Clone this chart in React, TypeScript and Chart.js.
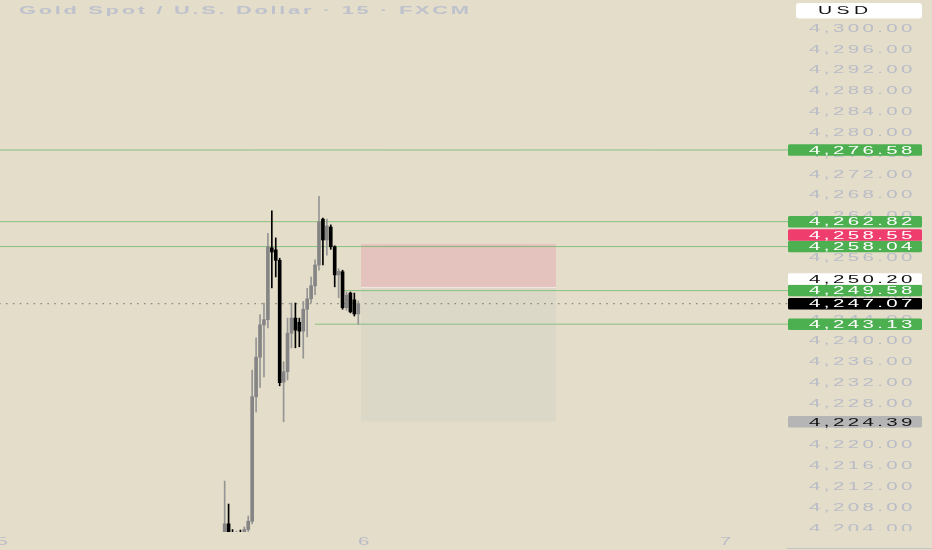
import React, { useEffect, useRef } from 'react';
import { Chart, registerables } from 'chart.js';

Chart.register(...registerables);

const W = 932;
const H = 550;

// ---- data (15-minute bar slots) ----
const candleSlots = [56, 57, 58, 59, 60, 61, 62, 63, 64, 65, 66, 67, 68, 69, 70, 71, 72, 73, 74, 75, 76, 77, 78, 79, 80, 81, 82, 83, 84, 85, 86, 87, 88, 89, 90];
const opens = [4202.6, 4204.8, 4203.1, 4200.6, 4202.8, 4202.2, 4203.7, 4205.3, 4229.2, 4236.8, 4243.0, 4244.0, 4257.8, 4257.4, 4255.4, 4232.0, 4234.0, 4241.4, 4244.3, 4243.5, 4241.8, 4246.0, 4248.0, 4250.5, 4254.5, 4263.3, 4259.3, 4261.8, 4258.0, 4252.6, 4253.2, 4246.3, 4249.1, 4247.8, 4245.1];
const highs = [4213.0, 4208.6, 4203.7, 4203.4, 4203.6, 4204.2, 4206.3, 4234.3, 4240.5, 4245.0, 4247.2, 4260.6, 4264.9, 4259.7, 4255.8, 4235.9, 4244.3, 4247.2, 4247.2, 4244.3, 4247.5, 4250.0, 4252.2, 4255.5, 4267.7, 4263.5, 4263.3, 4262.2, 4258.2, 4253.8, 4253.5, 4249.3, 4249.3, 4249.1, 4247.6];
const lows = [4201.9, 4202.2, 4199.8, 4199.9, 4201.4, 4201.8, 4203.0, 4204.8, 4226.3, 4231.0, 4233.0, 4242.4, 4250.1, 4252.2, 4231.3, 4224.4, 4232.4, 4238.6, 4238.6, 4238.8, 4236.6, 4240.7, 4247.2, 4248.8, 4253.5, 4254.5, 4256.4, 4257.5, 4250.3, 4248.2, 4246.0, 4245.8, 4245.3, 4244.7, 4243.1];
const closes = [4204.8, 4203.1, 4200.6, 4202.8, 4202.2, 4203.7, 4205.3, 4229.2, 4236.8, 4243.0, 4244.0, 4258.0, 4257.0, 4255.4, 4231.9, 4234.0, 4241.4, 4244.3, 4242.0, 4241.8, 4246.0, 4248.0, 4250.5, 4254.5, 4262.8, 4259.3, 4262.0, 4258.0, 4252.6, 4253.3, 4246.3, 4248.7, 4245.5, 4245.1, 4247.07];

const yTickValues = [4204, 4208, 4212, 4216, 4220, 4224, 4228, 4232, 4236, 4240, 4244, 4248, 4252, 4256, 4260, 4264, 4268, 4272, 4276, 4280, 4284, 4288, 4292, 4296, 4300];
const dayTickSlots = [-0.6, 91.4, 183.4];
const dayTickLabels = ['5', '6', '7'];

const levelPrices = [4276.58, 4262.82, 4258.04, 4249.58, 4243.13];
const levelStartSlots = [-2, -2, -2, 86.1, 79.0];
const currentPrice = 4247.07;

const positionSlots = [90.7, 140.3];
const entryPrice = 4250.2;
const stopPrice = 4258.55;
const targetPrice = 4224.39;

const labelPrices = [4276.58, 4262.82, 4258.04, 4249.58, 4247.07, 4243.13, 4224.39, 4258.55, 4250.2];
const labelFills = ['#4caf50', '#4caf50', '#4caf50', '#4caf50', '#000000', '#4caf50', '#b5b5b5', '#ef3d6d', '#ffffff'];
const labelTextColors = ['#ffffff', '#ffffff', '#ffffff', '#ffffff', '#ffffff', '#ffffff', '#111111', '#ffffff', '#111111'];

const titleText = 'Gold Spot / U.S. Dollar · 15 · FXCM';
const currencyText = 'USD';

// ---- view ----
const xMin = -1.17;
const xMax = 199.35;
const yMin = 4203.23;
const yMax = 4305.38;

const BG = '#e3ddc9';
const AXIS_TEXT = '#b9bcc8';
const UP_BODY = '#858585';
const UP_WICK = '#959595';
const DOWN = '#000000';

const fmt = (v: number) =>
  v.toLocaleString('en-US', { minimumFractionDigits: 2, maximumFractionDigits: 2 });

function drawWide(
  ctx: CanvasRenderingContext2D,
  text: string,
  x: number,
  y: number,
  size: number,
  weight: string,
  color: string,
  k: number,
  sp: number,
  align: 'left' | 'right' | 'center'
) {
  ctx.save();
  ctx.font = `${weight} ${size}px "Liberation Sans", Arial, sans-serif`;
  ctx.fillStyle = color;
  ctx.textBaseline = 'alphabetic';
  ctx.textAlign = 'left';
  const chars = Array.from(text);
  const ws = chars.map((c) => ctx.measureText(c).width * k);
  const total = ws.reduce((a, b) => a + b, 0) + sp * (chars.length - 1);
  let cx = align === 'left' ? x : align === 'right' ? x - total : x - total / 2;
  const base = y + (size * 0.716) / 2;
  chars.forEach((c, i) => {
    ctx.save();
    ctx.translate(cx, base);
    ctx.scale(k, 1);
    ctx.fillText(c, 0, 0);
    ctx.restore();
    cx += ws[i] + sp;
  });
  ctx.restore();
}

function rrect(ctx: CanvasRenderingContext2D, x: number, y: number, w: number, h: number, r: number) {
  ctx.beginPath();
  ctx.moveTo(x + r, y);
  ctx.lineTo(x + w - r, y);
  ctx.quadraticCurveTo(x + w, y, x + w, y + r);
  ctx.lineTo(x + w, y + h - r);
  ctx.quadraticCurveTo(x + w, y + h, x + w - r, y + h);
  ctx.lineTo(x + r, y + h);
  ctx.quadraticCurveTo(x, y + h, x, y + h - r);
  ctx.lineTo(x, y + r);
  ctx.quadraticCurveTo(x, y, x + r, y);
  ctx.closePath();
}

const TK = 1.95;
const TSP = 3.4;

const decorPlugin = {
  id: 'tvDecor',
  beforeDraw(chart: any) {
    const ctx = chart.ctx as CanvasRenderingContext2D;
    ctx.save();
    ctx.fillStyle = BG;
    ctx.fillRect(0, 0, chart.width, chart.height);
    ctx.restore();
  },
  afterDraw(chart: any) {
    const ctx = chart.ctx as CanvasRenderingContext2D;
    const ys = chart.scales.y;
    const xs = chart.scales.x;
    const area = chart.chartArea;
    const axisLeft = area.right;
    const textX = axisLeft + 21;

    // price scale tick labels
    ctx.save();
    ctx.beginPath();
    ctx.rect(axisLeft, 0, W - axisLeft, area.bottom - 1);
    ctx.clip();
    ys.ticks.forEach((t: any) => {
      const py = ys.getPixelForValue(t.value);
      drawWide(ctx, fmt(t.value), textX, py, 10.5, 'normal', AXIS_TEXT, TK, TSP, 'left');
    });
    ctx.restore();

    // coloured price labels
    const LH = 11.5;
    const placed: number[] = [];
    labelPrices.forEach((p, i) => {
      let cy = ys.getPixelForValue(p);
      let guard = 0;
      while (placed.some((q) => Math.abs(q - cy) < LH) && guard < 20) {
        const hit = placed.find((q) => Math.abs(q - cy) < LH) as number;
        cy = hit - LH;
        guard++;
      }
      placed.push(cy);
      ctx.save();
      ctx.fillStyle = labelFills[i];
      rrect(ctx, axisLeft, cy - LH / 2, W - 10 - axisLeft, LH, 1.5);
      ctx.fill();
      ctx.restore();
      drawWide(ctx, fmt(p), textX, cy, 10.5, 'normal', labelTextColors[i], TK, TSP, 'left');
    });

    // currency box
    ctx.save();
    ctx.fillStyle = '#ffffff';
    rrect(ctx, axisLeft + 8, 3, W - 10 - axisLeft - 8, 15.5, 3);
    ctx.fill();
    ctx.restore();
    drawWide(ctx, currencyText, axisLeft + 30, 10.8, 10, 'normal', '#111111', TK, 4.5, 'left');

    // title
    drawWide(ctx, titleText, 19, 10, 11.5, 'bold', '#bfc2cd', 1.9, 2.7, 'left');

    // time axis labels
    dayTickSlots.forEach((s, i) => {
      const px = xs.getPixelForValue(s);
      drawWide(ctx, dayTickLabels[i], px, 541, 10.5, 'normal', AXIS_TEXT, TK, 0, 'center');
    });

    // bottom border of price scale
    ctx.save();
    ctx.strokeStyle = '#c4c4c4';
    ctx.lineWidth = 1;
    ctx.beginPath();
    ctx.moveTo(axisLeft - 1, H - 1.5);
    ctx.lineTo(W, H - 1.5);
    ctx.stroke();
    ctx.restore();
  },
};

export default function App() {
  const ref = useRef<HTMLCanvasElement>(null);

  useEffect(() => {
    if (!ref.current) return;
    const upFlags = candleSlots.map((_, i) => closes[i] >= opens[i]);

    const lineBase = {
      type: 'line' as const,
      pointRadius: 0,
      pointHoverRadius: 0,
      tension: 0,
    };

    const datasets: any[] = [
      // target zone (entry -> target)
      {
        ...lineBase,
        data: [
          { x: positionSlots[0], y: entryPrice },
          { x: positionSlots[1], y: entryPrice },
        ],
        borderWidth: 0,
        borderColor: 'rgba(0,0,0,0)',
        backgroundColor: '#dcd8c8',
        fill: '+1',
        order: 30,
      },
      {
        ...lineBase,
        data: [
          { x: positionSlots[0], y: targetPrice },
          { x: positionSlots[1], y: targetPrice },
        ],
        borderWidth: 0,
        borderColor: 'rgba(0,0,0,0)',
        fill: false,
        order: 30,
      },
      // stop zone (stop -> entry)
      {
        ...lineBase,
        data: [
          { x: positionSlots[0], y: stopPrice },
          { x: positionSlots[1], y: stopPrice },
        ],
        borderWidth: 0,
        borderColor: 'rgba(0,0,0,0)',
        backgroundColor: '#e4c2bd',
        fill: '+1',
        order: 29,
      },
      {
        ...lineBase,
        data: [
          { x: positionSlots[0], y: entryPrice },
          { x: positionSlots[1], y: entryPrice },
        ],
        borderWidth: 1,
        borderColor: 'rgba(255,255,255,0.55)',
        fill: false,
        order: 28,
      },
      ...levelPrices.map((p, i) => ({
        ...lineBase,
        data: [
          { x: levelStartSlots[i], y: p },
          { x: xMax + 2, y: p },
        ],
        borderWidth: 1,
        borderColor: 'rgba(76,175,80,0.6)',
        fill: false,
        order: 10,
      })),
      {
        ...lineBase,
        data: [
          { x: xMin - 2, y: currentPrice },
          { x: xMax + 2, y: currentPrice },
        ],
        borderWidth: 1.3,
        borderDash: [1.6, 5.3],
        borderColor: 'rgba(70,70,70,0.55)',
        fill: false,
        order: 9,
      },
      // wicks
      {
        type: 'bar' as const,
        data: candleSlots.map((s, i) => ({ x: s, y: [lows[i], highs[i]] })),
        backgroundColor: upFlags.map((u) => (u ? UP_WICK : DOWN)),
        borderWidth: 0,
        barThickness: 1,
        grouped: false,
        order: 2,
      },
      // bodies
      {
        type: 'bar' as const,
        data: candleSlots.map((s, i) => ({ x: s, y: [opens[i], closes[i]] })),
        backgroundColor: upFlags.map((u) => (u ? UP_BODY : DOWN)),
        borderWidth: 0,
        barThickness: 3,
        minBarLength: 1,
        grouped: false,
        order: 1,
      },
    ];

    const chart = new Chart(ref.current, {
      type: 'bar',
      data: { datasets },
      options: {
        responsive: false,
        animation: false,
        events: [],
        layout: { padding: 0 },
        plugins: {
          legend: { display: false },
          tooltip: { enabled: false },
          title: { display: false },
        },
        scales: {
          x: {
            type: 'linear',
            min: xMin,
            max: xMax,
            offset: false,
            grid: { display: false },
            border: { display: false },
            ticks: { display: false },
            afterFit: (s: any) => {
              s.height = 18;
            },
          },
          y: {
            type: 'linear',
            position: 'right',
            min: yMin,
            max: yMax,
            grid: { display: false },
            border: { display: false },
            ticks: { display: false },
            afterBuildTicks: (s: any) => {
              s.ticks = yTickValues.map((v) => ({ value: v }));
            },
            afterFit: (s: any) => {
              s.width = 144;
            },
          },
        },
      } as any,
      plugins: [decorPlugin],
    });

    return () => chart.destroy();
  }, []);

  return (
    <div style={{ position: 'fixed', left: 0, top: 0, width: W, height: H, background: BG }}>
      <canvas ref={ref} width={W} height={H} style={{ width: W, height: H, display: 'block' }} />
    </div>
  );
}
